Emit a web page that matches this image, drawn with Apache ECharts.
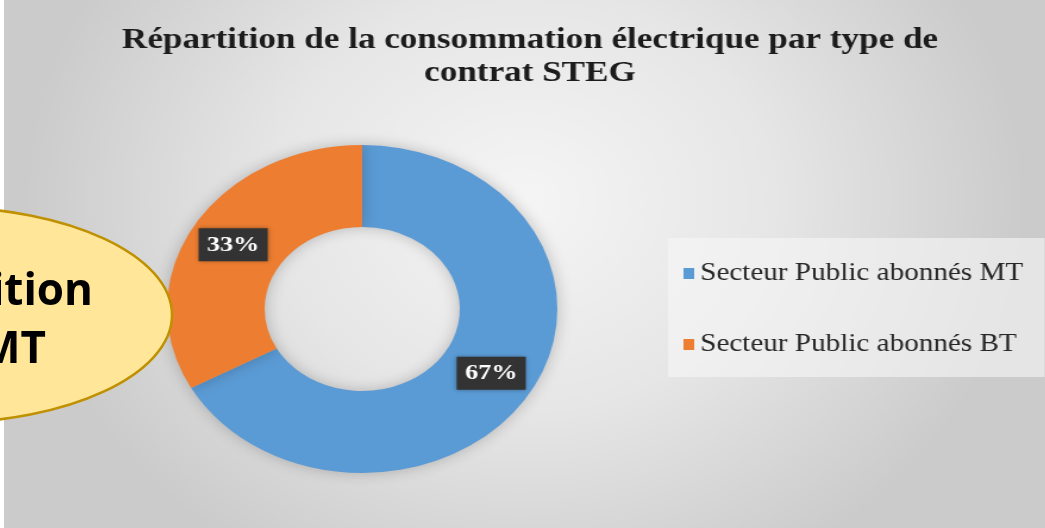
<!DOCTYPE html>
<html>
<head>
<meta charset="utf-8">
<script src="https://cdn.jsdelivr.net/npm/echarts@6/dist/echarts.min.js"></script>
<style>
  html, body { margin: 0; padding: 0; background: #fff; overflow: hidden; }
  #wrap { position: relative; width: 1045px; height: 528px; overflow: hidden; }
  /* the original excel chart was stretched sideways, so is this one */
  #main { position: absolute; left: 4px; top: 0; width: 875px; height: 528px;
          transform: scaleX(1.19); transform-origin: 0 0; }
  #bubble { position: absolute; left: 0; top: 0; width: 1045px; height: 528px; }
</style>
</head>
<body>
<div id="wrap">
  <div id="main"></div>
  <div id="bubble"></div>
</div>
<script>
var titleText = 'Répartition de la consommation électrique par type de\ncontrat STEG'
var categories = ['Secteur Public abonnés MT', 'Secteur Public abonnés BT']
var shares = [67, 33]
var colors = ['#5B9BD5', '#ED7D31']
var bubbleLines = ['Répartition', 'MT']

var chart = null
var bubble = null

function initChart(dom) {
  chart = echarts.init(dom, null, { renderer: 'canvas' })
  var option = {
    animation: false,
    color: colors,
    backgroundColor: {
      type: 'radial', x: 0.5, y: 0.38, r: 0.8,
      colorStops: [
        { offset: 0, color: '#f5f5f5' },
        { offset: 0.5, color: '#e6e6e6' },
        { offset: 1, color: '#cbcbcb' }
      ]
    },
    title: {
      text: titleText,
      left: 442,
      top: 24,
      padding: 0,
      textAlign: 'center',
      textStyle: {
        fontFamily: 'Liberation Serif',
        fontWeight: 'bold',
        fontSize: 29.5,
        lineHeight: 33,
        color: '#1c1c1c'
      }
    },
    legend: {
      orient: 'vertical',
      left: 558,
      top: 238,
      padding: [23, 18, 20, 13],
      itemGap: 46,
      itemWidth: 9,
      itemHeight: 11,
      icon: 'rect',
      backgroundColor: 'rgba(246,246,246,0.6)',
      data: categories,
      textStyle: {
        fontFamily: 'Liberation Serif',
        fontSize: 24.5,
        color: '#262626'
      }
    },
    series: [
      {
        name: 'Consommation',
        type: 'pie',
        center: [301, 309],
        radius: [82, 164],
        startAngle: 90,
        clockwise: true,
        avoidLabelOverlap: false,
        itemStyle: {
          shadowBlur: 14,
          shadowColor: 'rgba(0,0,0,0.22)'
        },
        label: {
          show: true,
          position: 'inside',
          formatter: '{d}%',
          fontFamily: 'Liberation Serif',
          fontWeight: 'bold',
          fontSize: 22,
          color: '#ffffff',
          backgroundColor: '#333333',
          padding: [6, 7, 5, 7],
          shadowBlur: 4,
          shadowColor: 'rgba(0,0,0,0.35)'
        },
        labelLine: { show: false },
        emphasis: { disabled: true },
        data: categories.map(function (name, i) {
          return { name: name, value: shares[i] }
        })
      }
    ]
  }
  chart.setOption(option)
  return chart
}

function initBubble(dom) {
  bubble = echarts.init(dom, null, { renderer: 'canvas' })
  bubble.setOption({
    animation: false,
    graphic: [
      {
        type: 'ellipse',
        shape: { cx: -60, cy: 315, rx: 232, ry: 108 },
        style: { fill: '#FFE699', stroke: '#BF9000', lineWidth: 2.5 }
      },
      {
        type: 'text',
        x: 93, y: 292,
        style: {
          text: bubbleLines[0],
          font: 'bold 44px "Open Sans", Lato, sans-serif',
          fill: '#000',
          align: 'right',
          verticalAlign: 'middle'
        }
      },
      {
        type: 'text',
        x: 46, y: 350,
        style: {
          text: bubbleLines[1],
          font: 'bold 44px "Open Sans", Lato, sans-serif',
          fill: '#000',
          align: 'right',
          verticalAlign: 'middle'
        }
      }
    ]
  })
  return bubble
}

initChart(document.getElementById('main'))
initBubble(document.getElementById('bubble'))
</script>
</body>
</html>
